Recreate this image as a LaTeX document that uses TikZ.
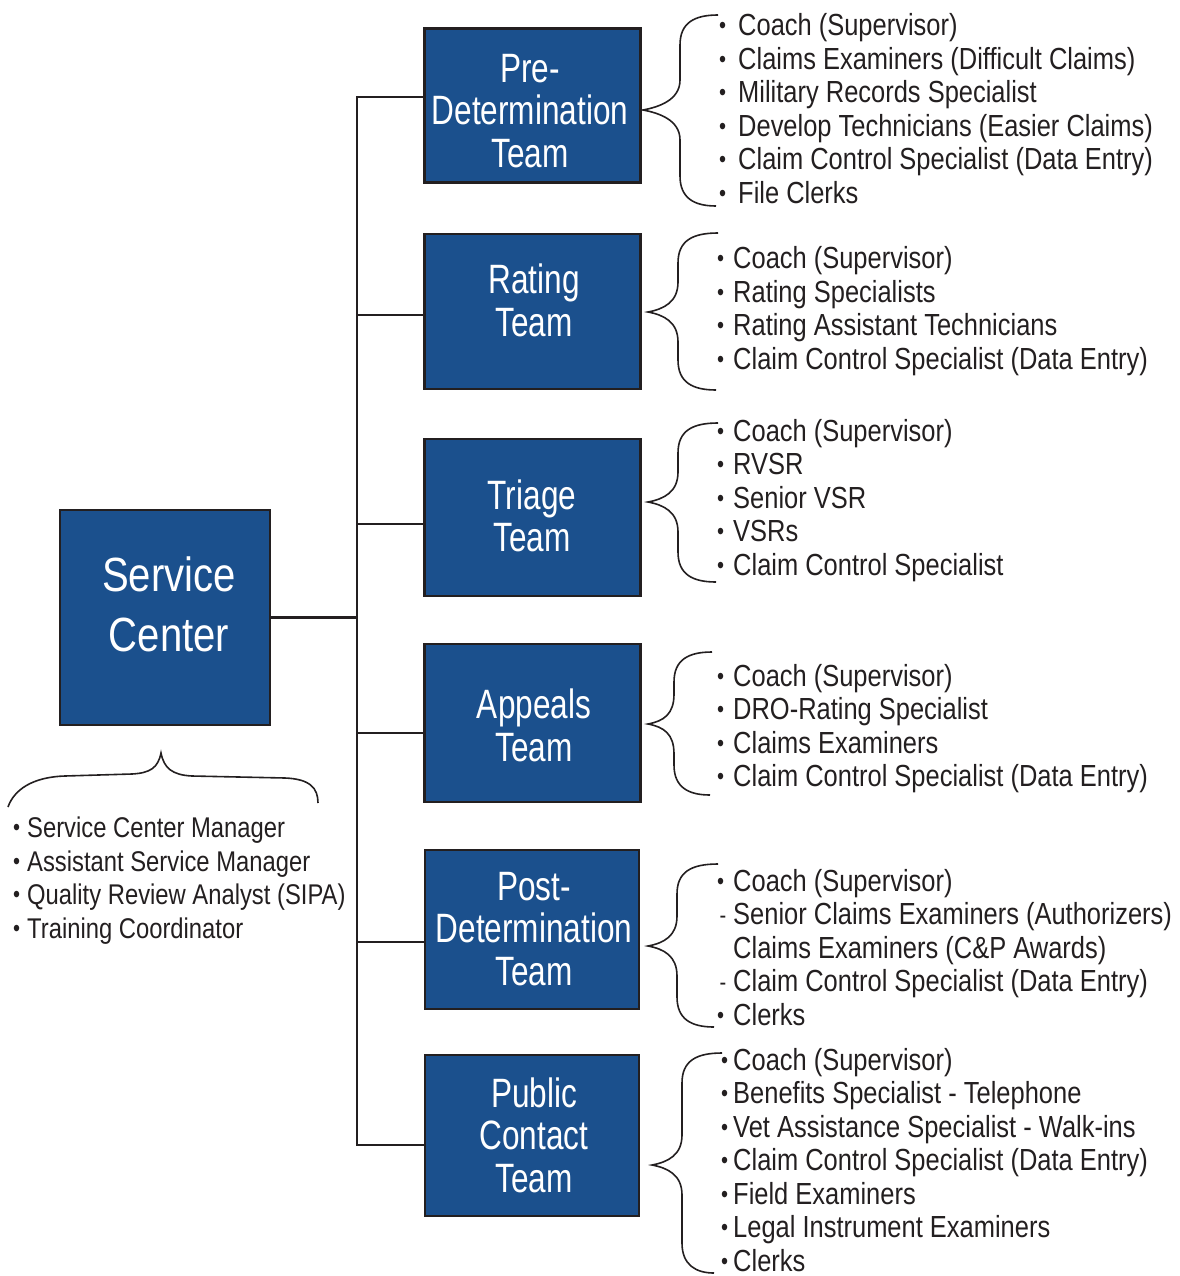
\documentclass[tikz,border=0pt]{standalone}
\usepackage{fontspec}
\setmainfont{Liberation Sans}[FakeStretch=0.835]
\newfontfamily\boxfont{Liberation Sans}[FakeStretch=0.77]
\definecolor{boxblue}{RGB}{27,80,141}
\definecolor{ink}{RGB}{35,31,32}
\newcommand\bl[1]{\llap{\raisebox{2pt}{\fontsize{24}{24}\selectfont •}\hspace{#1pt}}}
\newcommand\dsh[1]{\llap{\raisebox{1.5pt}{\fontsize{24}{24}\selectfont -}\hspace{#1pt}}}
\newcommand\vbrace[7]{%
  \draw[bracel] (#1,#2) .. controls ({#7+14},#2) and (#7,{#2+8}) .. (#7,{#2+30})
    -- (#7,{#6-30}) .. controls (#7,{#6-10}) and ({#5+16},{#6-3}) .. (#5,#6)
    .. controls ({#5+16},{#6+3}) and (#7,{#6+10}) .. (#7,{#6+30})
    -- (#7,{#4-30}) .. controls (#7,{#4-8}) and ({#7+14},#4) .. (#3,#4);}
\begin{document}
\begin{tikzpicture}[x=1pt,y=-1pt,
  box/.style={draw=ink, line width=2.5pt, fill=boxblue, inner sep=0pt},
  boxlbl/.style={text=white, align=center, inner sep=0pt, font=\boxfont\fontsize{41}{42.5}\selectfont},
  item/.style={text=ink, anchor=base west, inner sep=0pt, font=\fontsize{30.5}{33.5}\selectfont},
  bitem/.style={item, font=\fontsize{28.5}{33.5}\selectfont},
  conn/.style={draw=ink, line width=2.5pt},
  bracel/.style={draw=ink, line width=1.6pt}]
\useasboundingbox (0,0) rectangle (1179,1276);

% boxes
\node[box, minimum width=210pt, minimum height=215pt] (sc) at (165,617.5) {};
\node[box, minimum width=216pt, minimum height=154pt] (pre) at (532.5,105.5) {};
\node[box, minimum width=216pt, minimum height=155pt] (rating) at (532.5,311.5) {};
\node[box, minimum width=216pt, minimum height=157pt] (triage) at (532.5,517.5) {};
\node[box, minimum width=216pt, minimum height=158pt] (appeals) at (532.5,723) {};
\node[box, minimum width=214pt, minimum height=159pt] (post) at (532,929.5) {};
\node[box, minimum width=214pt, minimum height=161pt] (public) at (532,1135.5) {};

% box labels
\node[boxlbl, font=\fontsize{48}{60}\selectfont] (sc-l) at (169,604.5) {Service\\Center};
\node[boxlbl] (pre-l) at (530,111) {Pre-\\Determination\\Team};
\node[boxlbl] (rating-l) at (534,300.5) {Rating\\Team};
\node[boxlbl] (triage-l) at (532,516) {Triage\\Team};
\node[boxlbl] (appeals-l) at (534,725.5) {Appeals\\Team};
\node[boxlbl] (post-l) at (534,929) {Post-\\Determination\\Team};
\node[boxlbl] (public-l) at (534,1135) {Public\\Contact\\Team};

% connectors
\coordinate (jsc) at (357,617.5);
\coordinate (jpre) at (357,97);
\coordinate (jrat) at (357,315);
\coordinate (jtri) at (357,524);
\coordinate (japp) at (357,733);
\coordinate (jpost) at (357,942);
\coordinate (jpub) at (357,1145);
\draw[conn] (sc.east) -- (jsc);
\draw[conn] (jpre -| pre.west) -- (jpre) -- (jpub) -- (jpub -| public.west);
\draw[conn] (jrat) -- (jrat -| rating.west);
\draw[conn] (jtri) -- (jtri -| triage.west);
\draw[conn] (japp) -- (japp -| appeals.west);
\draw[conn] (jpost) -- (jpost -| post.west);

% braces
\vbrace{718}{15}{716}{206}{643}{110}{680}
\vbrace{718}{233}{716}{390}{648}{312}{678}
\vbrace{718}{423}{716}{582}{648}{502}{678}
\vbrace{712}{652}{710}{795}{648}{724}{674}
\vbrace{718}{864}{714}{1027}{648}{946}{677}
\vbrace{722}{1053}{714}{1273}{652}{1165}{682}
\draw[bracel] (8,807) .. controls (14,790) and (32,777) .. (65,776) -- (132,774)
  .. controls (150,773) and (158,768) .. (161,753)
  .. controls (164,768) and (172,775) .. (192,776) -- (285,778)
  .. controls (310,779) and (318,788) .. (318,803);

% lists
\foreach \t [count=\i] in {{Coach (Supervisor)},{Claims Examiners (Difficult Claims)},{Military Records Specialist},{Develop Technicians (Easier Claims)},{Claim Control Specialist (Data Entry)},{File Clerks}}
  \node[item] (pre-\i) at (738,{36+33.5*(\i-1)}) {\bl{12}\t};
\foreach \t [count=\i] in {{Coach (Supervisor)},{Rating Specialists},{Rating Assistant Technicians},{Claim Control Specialist (Data Entry)}}
  \node[item] (rating-\i) at (733,{268.5+33.5*(\i-1)}) {\bl{9}\t};
\foreach \t [count=\i] in {{Coach (Supervisor)},{RVSR},{Senior VSR},{VSRs},{Claim Control Specialist}}
  \node[item] (triage-\i) at (733,{441+33.5*(\i-1)}) {\bl{9}\t};
\foreach \t [count=\i] in {{Coach (Supervisor)},{DRO-Rating Specialist},{Claims Examiners},{Claim Control Specialist (Data Entry)}}
  \node[item] (appeals-\i) at (733,{686+33.5*(\i-1)}) {\bl{9}\t};
\node[item] (post-1) at (733,891) {\bl{9}Coach (Supervisor)};
\node[item] (post-2) at (733,924.5) {\dsh{7}Senior Claims Examiners (Authorizers)};
\node[item] (post-3) at (733,958) {Claims Examiners (C\&P Awards)};
\node[item] (post-4) at (733,991.5) {\dsh{7}Claim Control Specialist (Data Entry)};
\node[item] (post-5) at (733,1025) {\bl{9}Clerks};
\foreach \t [count=\i] in {{Coach (Supervisor)},{Benefits Specialist - Telephone},{Vet Assistance Specialist - Walk-ins},{Claim Control Specialist (Data Entry)},{Field Examiners},{Legal Instrument Examiners},{Clerks}}
  \node[item] (public-\i) at (733,{1070+33.5*(\i-1)}) {\bl{5}\t};
\foreach \t [count=\i] in {{Service Center Manager},{Assistant Service Manager},{Quality Review Analyst (SIPA)},{Training Coordinator}}
  \node[bitem] (sc-\i) at (27,{837.5+33.7*(\i-1)}) {\bl{7}\t};
\end{tikzpicture}
\end{document}
